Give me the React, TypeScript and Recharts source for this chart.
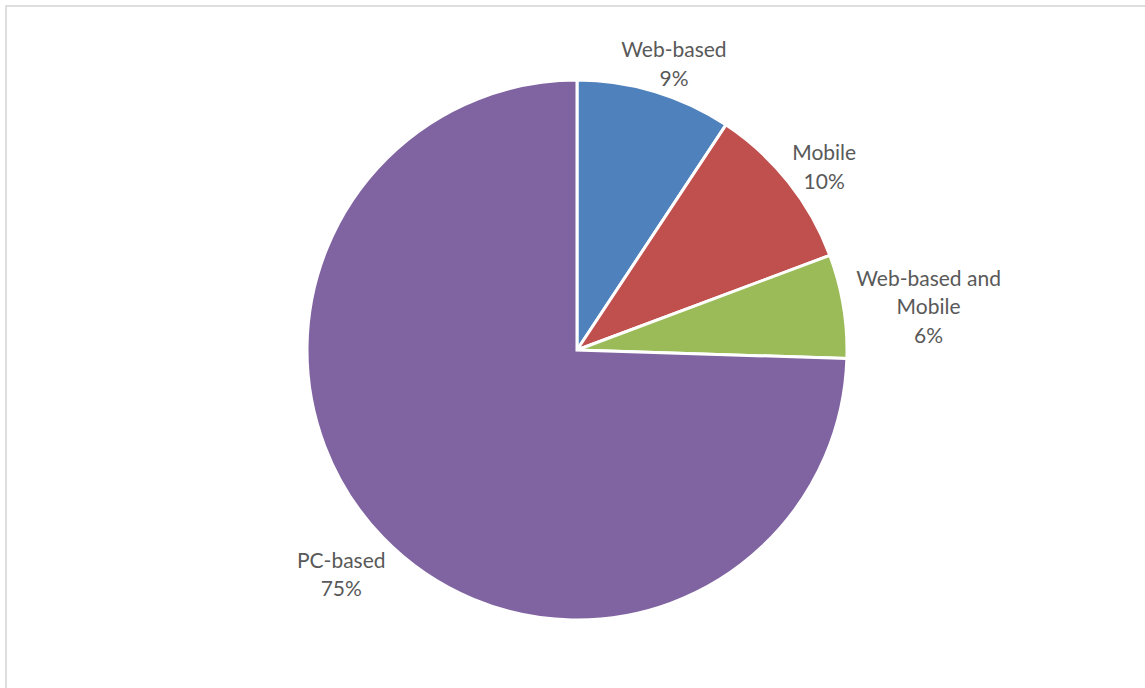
import React from 'react';
import { PieChart, Pie, Cell } from 'recharts';

const categories = ['Web-based', 'Mobile', 'Web-based and Mobile', 'PC-based'];
const shares = [9.3, 10.0, 6.2, 74.5];
const percentLabels = ['9%', '10%', '6%', '75%'];
const colors = ['#4F81BD', '#C0504D', '#9BBB59', '#8064A2'];

const data = categories.map((name, i) => ({ name, value: shares[i], pct: percentLabels[i] }));

const FONT = 'Lato, "Open Sans", sans-serif';
const FS = 21;
const LH = 28.5;

let ctx: CanvasRenderingContext2D | null = null;
function measure(t: string): number {
  if (!ctx) ctx = document.createElement('canvas').getContext('2d');
  if (!ctx) return t.length * FS * 0.5;
  ctx.font = `${FS}px ${FONT}`;
  return ctx.measureText(t).width;
}

function wrap(name: string): string[] {
  if (name.length <= 12) return [name];
  const idx = name.lastIndexOf(' ');
  return [name.slice(0, idx), name.slice(idx + 1)];
}

const renderLabel = (props: any) => {
  const { cx, cy, midAngle, outerRadius, index } = props;
  const entry = data[index];
  const lines = [...wrap(entry.name), entry.pct];
  const w = Math.max(...lines.map(measure));
  const h = (lines.length - 1) * LH + FS;
  const rad = (-midAngle * Math.PI) / 180;
  const dx = Math.cos(rad);
  const dy = Math.sin(rad);
  const g = 14;
  const x = cx + (outerRadius + g) * dx + (dx * w) / 2;
  const y = cy + (outerRadius + g) * dy + (dy * h) / 2 + 8;
  const top = y - ((lines.length - 1) * LH) / 2;
  return (
    <text
      x={x}
      y={top}
      textAnchor="middle"
      dominantBaseline="central"
      fill="#595959"
      fontFamily={FONT}
      fontSize={FS}
    >
      {lines.map((l, i) => (
        <tspan key={i} x={x} y={top + i * LH}>
          {l}
        </tspan>
      ))}
    </text>
  );
};

export default function App() {
  return (
    <div
      style={{
        position: 'absolute',
        left: 0,
        top: 0,
        width: 1145,
        height: 688,
        overflow: 'hidden',
        background: '#ffffff',
      }}
    >
      <div
        style={{
          position: 'absolute',
          left: 5,
          top: 5,
          width: 1300,
          height: 900,
          border: '2px solid #dedede',
        }}
      />
      <div style={{ position: 'absolute', left: 0, top: 0 }}>
        <PieChart width={1145} height={688} margin={{ top: 0, right: 0, bottom: 0, left: 0 }}>
          <Pie
            data={data}
            dataKey="value"
            nameKey="name"
            cx={577}
            cy={350}
            outerRadius={270}
            startAngle={90}
            endAngle={-270}
            stroke="#ffffff"
            strokeWidth={3}
            label={renderLabel}
            labelLine={false}
            isAnimationActive={false}
          >
            {data.map((d, i) => (
              <Cell key={d.name} fill={colors[i]} />
            ))}
          </Pie>
        </PieChart>
      </div>
    </div>
  );
}
